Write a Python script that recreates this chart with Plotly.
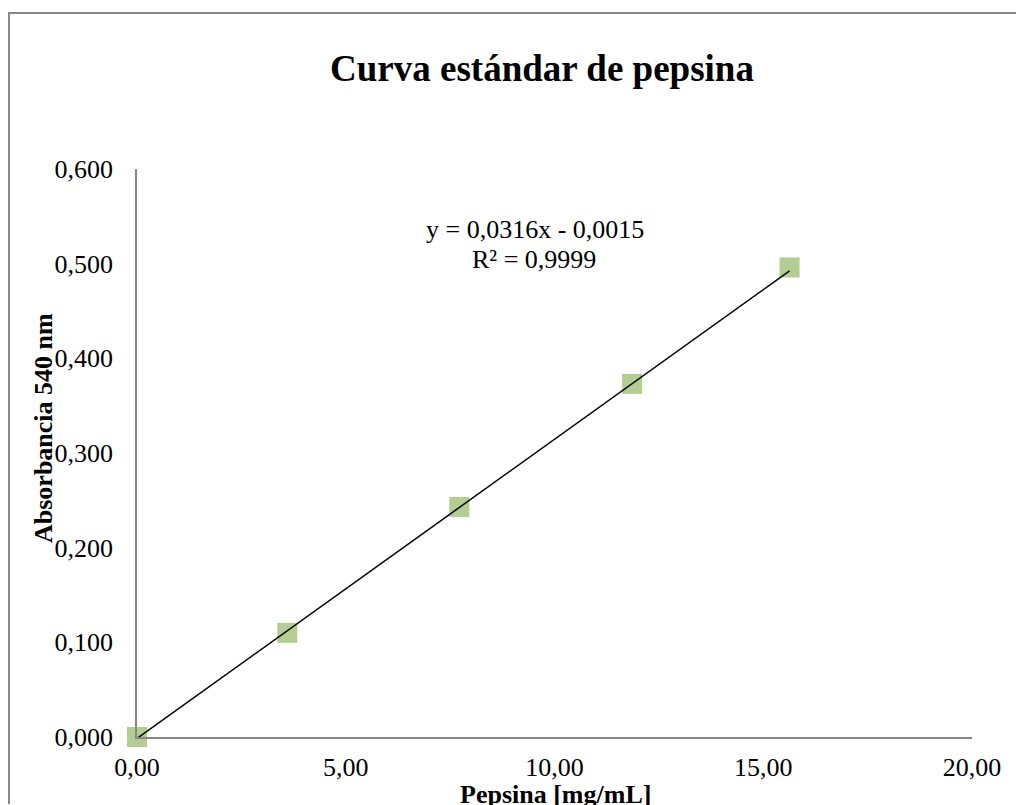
import plotly.graph_objects as go

# Data
pepsina = [0.00, 3.60, 7.72, 11.86, 15.63]          # mg/mL
absorbancia = [0.000, 0.110, 0.243, 0.373, 0.496]   # A 540 nm

# Linear trend line reported on chart
slope = 0.0316
intercept = -0.0015
trend_x = [pepsina[0], pepsina[-1]]
trend_y = [slope * x + intercept for x in trend_x]

x_ticks = [0, 5, 10, 15, 20]
y_ticks = [0.0, 0.1, 0.2, 0.3, 0.4, 0.5, 0.6]

FONT = "Liberation Serif, Times New Roman, serif"
W, H = 1018, 805
L, R, T, B = 137, 46, 169, 68
pw, ph = W - L - R, H - T - B

def px2paper_x(px):
    return (px - L) / pw

def px2paper_y(py):
    return (H - B - py) / ph

fig = go.Figure()
fig.add_trace(go.Scatter(
    x=pepsina, y=absorbancia, mode="markers",
    marker=dict(symbol="square", size=20, color="#B4CD92", line=dict(width=0)),
    showlegend=False, cliponaxis=False,
))
fig.add_trace(go.Scatter(
    x=trend_x, y=trend_y, mode="lines",
    line=dict(color="black", width=1.5),
    showlegend=False, cliponaxis=False,
))

fig.update_layout(
    width=W, height=H,
    margin=dict(l=L, r=R, t=T, b=B),
    paper_bgcolor="white", plot_bgcolor="white",
    separators=",.",
    font=dict(family=FONT, size=26, color="black"),
    title=dict(text="<b>Curva estándar de pepsina</b>", x=542 / W, xanchor="center",
               y=1 - 68 / H, yanchor="middle", xref="container",
               yref="container", font=dict(family=FONT, size=37, color="black")),
    xaxis=dict(range=[0, 20], tickvals=x_ticks, tickformat=".2f",
               showgrid=False, zeroline=False, showline=True,
               linecolor="#868686", linewidth=1.5,
               ticks="outside", ticklen=6, tickcolor="rgba(0,0,0,0)",
               tickfont=dict(family=FONT, size=26, color="black")),
    yaxis=dict(range=[0, 0.6], tickvals=y_ticks, tickformat=".3f",
               showgrid=False, zeroline=False, showline=True,
               linecolor="#868686", linewidth=1.5,
               ticks="outside", ticklen=17, tickcolor="rgba(0,0,0,0)",
               tickfont=dict(family=FONT, size=26, color="black")),
    annotations=[
        dict(text="<b>Absorbancia 540 nm</b>", textangle=-90,
             x=px2paper_x(43), y=px2paper_y(428), xref="paper", yref="paper",
             xanchor="center", yanchor="middle", showarrow=False,
             font=dict(family=FONT, size=26, color="black")),
        dict(text="<b>Pepsina [mg/mL]</b>",
             x=px2paper_x(555), y=px2paper_y(794), xref="paper", yref="paper",
             xanchor="center", yanchor="middle", showarrow=False,
             font=dict(family=FONT, size=26, color="black")),
        dict(text="y = 0,0316x - 0,0015",
             x=px2paper_x(535), y=px2paper_y(229), xref="paper", yref="paper",
             xanchor="center", yanchor="middle", showarrow=False,
             font=dict(family=FONT, size=26, color="black")),
        dict(text="R² = 0,9999",
             x=px2paper_x(534), y=px2paper_y(259), xref="paper", yref="paper",
             xanchor="center", yanchor="middle", showarrow=False,
             font=dict(family=FONT, size=26, color="black")),
    ],
    shapes=[
        dict(type="line", xref="paper", yref="paper",
             x0=px2paper_x(9), y0=px2paper_y(13),
             x1=px2paper_x(W - 2), y1=px2paper_y(13),
             line=dict(color="#888888", width=2), layer="below"),
        dict(type="line", xref="paper", yref="paper",
             x0=px2paper_x(9), y0=px2paper_y(12),
             x1=px2paper_x(9), y1=px2paper_y(H - 1),
             line=dict(color="#888888", width=2), layer="below"),
    ],
)

fig.write_html("out.html")
